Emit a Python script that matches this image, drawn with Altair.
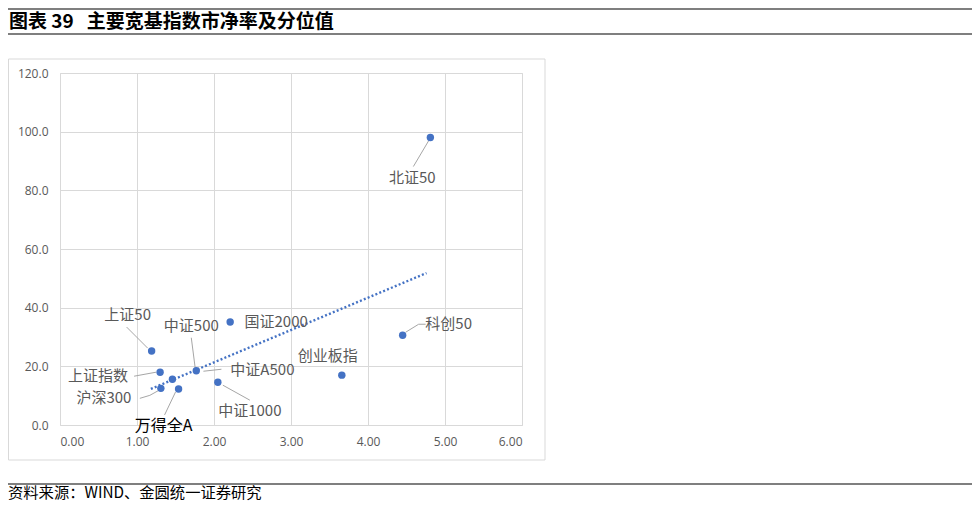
import altair as alt
import pandas as pd

# ---------------- data ----------------
NAMES = ["北证50", "科创50", "创业板指", "国证2000", "上证50", "上证指数",
         "中证A500", "中证500", "沪深300", "万得全A", "中证1000"]
PB = [4.81, 4.45, 3.66, 2.21, 1.19, 1.30, 1.46, 1.77, 1.31, 1.54, 2.05]
PCT = [98.0, 30.6, 17.0, 35.1, 25.2, 18.0, 15.6, 18.5, 12.5, 12.3, 14.6]

TREND_X = [1.18, 4.76]
TREND_Y = [12.3, 51.8]

X_TICKS = [0, 1, 2, 3, 4, 5, 6]
Y_TICKS = [0, 20, 40, 60, 80, 100, 120]

TITLE = "图表 39\u00a0\u00a0\u00a0主要宽基指数市净率及分位值"
SOURCE = "资料来源：WIND、金圆统一证券研究"

# ---------------- layout / style ----------------
W, H = 462, 352
X_MIN, X_MAX = 0, 6
Y_MIN, Y_MAX = 0, 120
PXX = W / (X_MAX - X_MIN)
PXY = H / (Y_MAX - Y_MIN)

BLUE = "#4472C4"
GRAY_TXT = "#595959"
GRID = "#d9d9d9"
LEAD = "#a6a6a6"
CJK = "Noto Sans CJK SC"

# label centre offsets from point, in pixels (dx right, dy down)
LABEL_OFF = {
    "北证50": (-18, 40), "科创50": (46, -11), "创业板指": (-14, -19),
    "国证2000": (46, 0), "中证500": (-5, -45), "上证50": (-24, -36),
    "中证A500": (90, -9), "上证指数": (-62, 4), "沪深300": (-57, 10),
    "万得全A": (-15, 37), "中证1000": (32, 29),
}
# leader polylines, offsets from point in pixels
LEADERS = {
    "北证50": [(-1, 2), (-17, 29)],
    "科创50": [(3, -3), (16, -11), (23, -11)],
    "中证500": [(-1, -2), (-5, -33)],
    "上证50": [(-4, -3), (-25, -24)],
    "中证A500": [(31, -8), (49, -10)],
    "上证指数": [(-4, 0), (-26, 4)],
    "沪深300": [(-2, 2), (-11, 7), (-21, 10)],
    "万得全A": [(-3, 3), (-14, 26)],
    "中证1000": [(5, 3), (32, 18)],
}

pts = pd.DataFrame({"name": NAMES, "pb": PB, "pct": PCT})

lab_rows = []
for n, x, y in zip(NAMES, PB, PCT):
    dx, dy = LABEL_OFF[n]
    special = n == "万得全A"
    lab_rows.append({"name": n, "lx": x + dx / PXX, "ly": y - dy / PXY,
                     "col": "#000000" if special else GRAY_TXT,
                     "fs": 16 if special else 15})
labs = pd.DataFrame(lab_rows)

lead_rows = []
for n, x, y in zip(NAMES, PB, PCT):
    for i, (dx, dy) in enumerate(LEADERS.get(n, [])):
        lead_rows.append({"name": n, "o": i, "lx": x + dx / PXX, "ly": y - dy / PXY})
leads = pd.DataFrame(lead_rows)

trend = pd.DataFrame({"x": TREND_X, "y": TREND_Y})

xs = alt.Scale(domain=[X_MIN, X_MAX], nice=False, zero=False)
ys = alt.Scale(domain=[Y_MIN, Y_MAX], nice=False)

one = pd.DataFrame({"a": [0]})

frame = alt.Chart(one).mark_rect(filled=False, stroke=GRID, strokeWidth=1).encode(
    x=alt.value(-51.5), x2=alt.value(485), y=alt.value(-14), y2=alt.value(387))


def hrule(yv):
    return alt.Chart(one).mark_rule(color="#7f7f7f", strokeWidth=2).encode(
        x=alt.value(-55), x2=alt.value(914), y=alt.value(yv))


title = alt.Chart(pd.DataFrame({"t": [TITLE]})).mark_text(
    align="left", baseline="middle", font=CJK, fontSize=19, fontWeight="bold",
    color="#000000").encode(text="t:N", x=alt.value(-51), y=alt.value(-51))

source = alt.Chart(pd.DataFrame({"t": [SOURCE]})).mark_text(
    align="left", baseline="middle", font=CJK, fontSize=15.3,
    color="#000000").encode(text="t:N", x=alt.value(-52), y=alt.value(420))

base_axes = alt.Chart(pts).mark_point(opacity=0).encode(
    x=alt.X("pb:Q", scale=xs, title=None,
            axis=alt.Axis(values=X_TICKS, format=".2f", grid=True, gridColor=GRID,
                          domain=False, ticks=False, labelColor=GRAY_TXT,
                          labelFontSize=12, labelFont="Open Sans", labelPadding=11)),
    y=alt.Y("pct:Q", scale=ys, title=None,
            axis=alt.Axis(values=Y_TICKS, format=".1f", grid=True, gridColor=GRID,
                          domain=False, ticks=False, labelColor=GRAY_TXT,
                          labelFontSize=12, labelFont="Open Sans", labelPadding=12)),
)

trend_line = alt.Chart(trend).mark_line(
    color=BLUE, strokeWidth=2.4, strokeDash=[2, 2.2]).encode(
    x=alt.X("x:Q", scale=xs), y=alt.Y("y:Q", scale=ys))

leader_lines = alt.Chart(leads).mark_line(color=LEAD, strokeWidth=1).encode(
    x=alt.X("lx:Q", scale=xs), y=alt.Y("ly:Q", scale=ys),
    detail="name:N", order="o:Q")

dots = alt.Chart(pts).mark_circle(size=55, color=BLUE, opacity=1).encode(
    x=alt.X("pb:Q", scale=xs), y=alt.Y("pct:Q", scale=ys))

labels = alt.Chart(labs).mark_text(font=CJK, baseline="middle", align="center").encode(
    x=alt.X("lx:Q", scale=xs), y=alt.Y("ly:Q", scale=ys), text="name:N",
    color=alt.Color("col:N", scale=None), size=alt.Size("fs:Q", scale=None))

chart = alt.layer(
    frame, hrule(-64), hrule(-39), hrule(411), hrule(435), title, source,
    base_axes, trend_line, leader_lines, dots, labels
).properties(
    width=W, height=H,
    autosize=alt.AutoSizeParams(type="none"),
    padding={"left": 52, "top": 65, "right": 450, "bottom": 81},
).configure_view(stroke=None).configure(background="white")

chart.save("out.html", embed_options={"renderer": "svg", "actions": False})
